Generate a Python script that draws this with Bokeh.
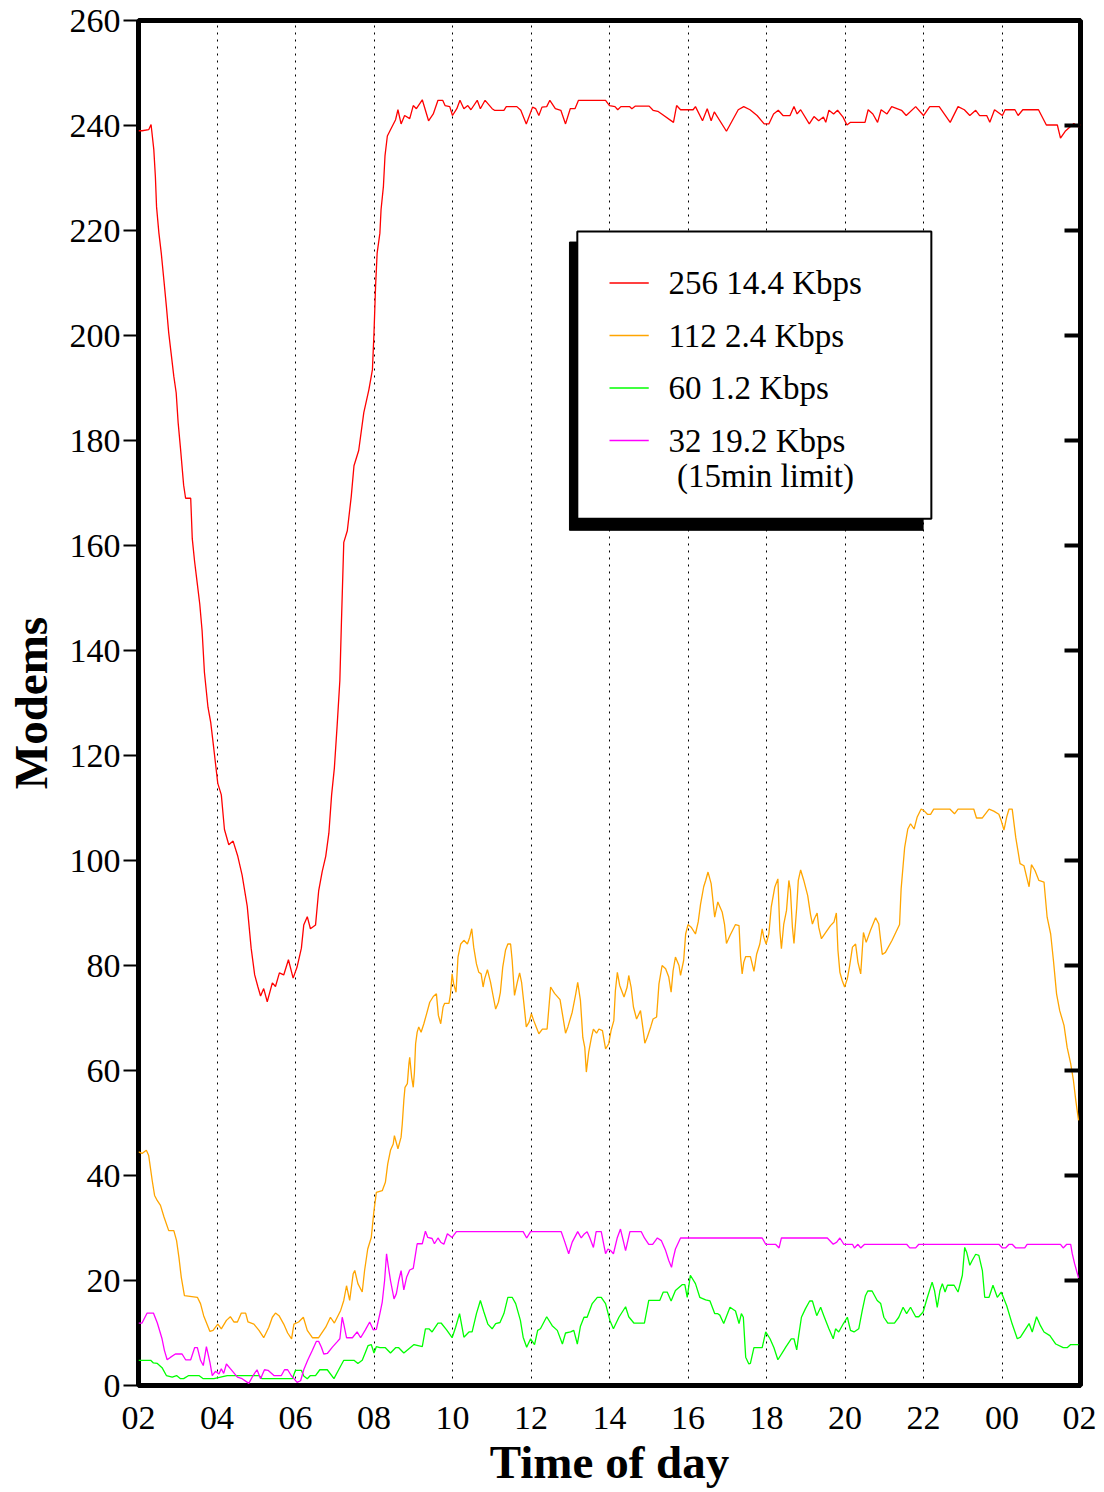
from bokeh.plotting import figure
from bokeh.models import FixedTicker, LinearAxis, BoxAnnotation, Range1d
from bokeh.embed import file_html
from bokeh.resources import INLINE
from bokeh.core.properties import value

# ---------------- data (hours after 02:00, modems in use) ----------------
red_h = [0, 0.09, 0.26, 0.32, 0.39, 0.43, 0.46, 0.52, 0.58, 0.65,
         0.71, 0.77, 0.83, 0.90, 0.96, 1.01, 1.07, 1.15, 1.20, 1.33,
         1.37, 1.43, 1.50, 1.56, 1.62, 1.68, 1.77, 1.84, 1.92, 2.02,
         2.11, 2.19, 2.30, 2.41, 2.53, 2.64, 2.77, 2.87, 2.96, 3.04,
         3.11, 3.19, 3.28, 3.41, 3.49, 3.59, 3.70, 3.82, 3.94, 4.04,
         4.15, 4.21, 4.30, 4.38, 4.51, 4.59, 4.68, 4.77, 4.85, 4.92,
         4.99, 5.06, 5.13, 5.17, 5.23, 5.32, 5.42, 5.49, 5.61, 5.74,
         5.87, 5.96, 6.00, 6.04, 6.08, 6.15, 6.18, 6.24, 6.28, 6.34,
         6.42, 6.55, 6.61, 6.69, 6.78, 6.91, 7.00, 7.08, 7.23, 7.39,
         7.51, 7.63, 7.75, 7.81, 7.93, 8.00, 8.11, 8.19, 8.29, 8.39,
         8.47, 8.63, 8.71, 8.83, 9.01, 9.07, 9.31, 9.37, 9.64, 9.74,
         9.88, 10.04, 10.12, 10.20, 10.28, 10.40, 10.48, 10.62, 10.76, 10.88,
         11.00, 11.12, 11.21, 11.90, 12.00, 12.14, 12.21, 12.29, 12.51, 12.57,
         12.66, 13.01, 13.11, 13.23, 13.33, 13.63, 13.71, 13.81, 14.13, 14.19,
         14.37, 14.49, 14.59, 14.67, 14.98, 15.28, 15.42, 15.58, 15.76, 15.94,
         16.06, 16.18, 16.30, 16.42, 16.60, 16.70, 16.78, 16.87, 17.09, 17.21,
         17.33, 17.45, 17.51, 17.59, 17.71, 17.81, 17.95, 18.05, 18.14, 18.51,
         18.59, 18.71, 18.83, 18.92, 19.07, 19.19, 19.44, 19.56, 19.80, 20.00,
         20.16, 20.40, 20.68, 20.88, 21.04, 21.18, 21.33, 21.43, 21.61, 21.69,
         21.81, 22.01, 22.08, 22.33, 22.41, 22.53, 22.93, 23.13, 23.41, 23.49,
         23.61, 23.83, 23.95, 24.0]
red_v = [239, 239, 239.2, 240.2, 235.4, 230.3, 224.5, 219.5, 215.7, 210.3,
         205.6, 200.5, 196.7, 192.2, 189.1, 183.4, 178.5, 171.5, 169, 169,
         161.3, 156.9, 152.6, 148.9, 143.8, 135.8, 129.2, 126.3, 121.2, 114.7,
         112.5, 105.9, 103, 103.7, 100.8, 97.2, 91.3, 83.3, 78.2, 76,
         74.2, 75.6, 73.1, 76.7, 76, 78.6, 78.2, 81.1, 77.6, 79.7,
         83.3, 87.7, 89.3, 87, 87.7, 94.2, 97.9, 100.8, 105.2, 112.5,
         117.6, 125.6, 134.3, 145.3, 160.6, 162.8, 169.3, 175.2, 178.1, 185.3,
         189.7, 193.5, 200.5, 209.4, 215.7, 219.5, 224, 228.4, 234.2, 238,
         239.2, 241.1, 243, 240.3, 241.9, 241.3, 243.8, 243.2, 244.9, 240.9,
         242.2, 244.8, 244.8, 243.8, 243.6, 241.9, 243.2, 244.8, 243.2, 243.8,
         243, 244.8, 243.2, 244.8, 243.2, 242.9, 242.9, 243.6, 243.6, 242.9,
         240.3, 243.5, 243.2, 241.9, 243.5, 243.6, 244.8, 243.2, 242.9, 240.3,
         243.2, 243.2, 244.8, 244.8, 243.8, 243.6, 243, 243.6, 243.6, 243.2,
         243.7, 243.7, 242.9, 242.7, 242.2, 240.6, 243.8, 243, 243, 243.6,
         240.9, 243.2, 240.9, 242.6, 238.9, 243, 243.6, 243, 241.9, 240.3,
         240.3, 242.2, 242.9, 241.9, 241.9, 243.6, 242.2, 243, 240.3, 241.7,
         240.9, 241.6, 240.6, 242.9, 242.2, 242.9, 241.6, 240.1, 240.6, 240.6,
         243, 242.2, 240.6, 243, 242.2, 243.6, 242.9, 241.9, 243.6, 241.9,
         243.6, 243.6, 240.6, 243.6, 243, 241.9, 242.9, 241.9, 241.9, 240.6,
         243, 241.9, 243, 243, 241.9, 243, 243, 240.1, 240.1, 237.6,
         238.9, 240.4, 239.7, 240.2]

orange_h = [0, 0.09, 0.20, 0.26, 0.35, 0.41, 0.48, 0.56, 0.65, 0.77,
            0.90, 0.97, 1.03, 1.09, 1.17, 1.50, 1.58, 1.66, 1.82, 1.90,
            2.02, 2.11, 2.24, 2.34, 2.43, 2.52, 2.62, 2.73, 2.79, 2.94,
            3.07, 3.19, 3.32, 3.41, 3.49, 3.58, 3.70, 3.80, 3.90, 3.96,
            4.08, 4.20, 4.30, 4.43, 4.59, 4.77, 4.89, 4.99, 5.15, 5.23,
            5.30, 5.38, 5.47, 5.51, 5.59, 5.70, 5.76, 5.84, 5.93, 6.00,
            6.06, 6.21, 6.29, 6.35, 6.42, 6.49, 6.52, 6.61, 6.69, 6.72,
            6.76, 6.79, 6.85, 6.89, 6.91, 6.96, 7.00, 7.03, 7.06, 7.10,
            7.14, 7.20, 7.27, 7.34, 7.42, 7.51, 7.59, 7.64, 7.70, 7.76,
            7.80, 7.91, 7.95, 7.99, 8.03, 8.09, 8.14, 8.21, 8.29, 8.38,
            8.44, 8.49, 8.54, 8.61, 8.67, 8.73, 8.78, 8.82, 8.89, 8.97,
            9.04, 9.10, 9.17, 9.22, 9.28, 9.35, 9.41, 9.48, 9.52, 9.58,
            9.65, 9.71, 9.76, 9.82, 9.88, 9.95, 10.01, 10.07, 10.20, 10.29,
            10.41, 10.50, 10.60, 10.74, 10.80, 10.88, 10.94, 11.05, 11.14, 11.19,
            11.26, 11.32, 11.37, 11.41, 11.47, 11.54, 11.59, 11.67, 11.73, 11.82,
            11.90, 11.98, 12.04, 12.11, 12.15, 12.20, 12.26, 12.37, 12.45, 12.49,
            12.55, 12.61, 12.69, 12.79, 12.86, 12.90, 12.96, 13.05, 13.11, 13.20,
            13.26, 13.34, 13.43, 13.51, 13.57, 13.62, 13.68, 13.77, 13.81, 13.89,
            13.94, 14.00, 14.08, 14.19, 14.26, 14.32, 14.40, 14.45, 14.51, 14.59,
            14.68, 14.76, 14.87, 14.93, 14.98, 15.07, 15.21, 15.30, 15.34, 15.38,
            15.42, 15.47, 15.59, 15.68, 15.75, 15.83, 15.89, 15.93, 15.99, 16.06,
            16.12, 16.21, 16.29, 16.34, 16.38, 16.44, 16.51, 16.57, 16.61, 16.66,
            16.70, 16.77, 16.81, 16.87, 16.95, 17.05, 17.12, 17.17, 17.22, 17.29,
            17.33, 17.40, 17.51, 17.63, 17.72, 17.78, 17.82, 17.87, 17.93, 17.99,
            18.06, 18.12, 18.19, 18.27, 18.33, 18.40, 18.47, 18.54, 18.65, 18.78,
            18.86, 18.95, 19.03, 19.20, 19.39, 19.43, 19.48, 19.52, 19.60, 19.67,
            19.76, 19.84, 19.94, 20.01, 20.10, 20.18, 20.26, 20.67, 20.79, 20.88,
            21.28, 21.35, 21.50, 21.67, 21.79, 21.92, 21.98, 22.05, 22.12, 22.18,
            22.26, 22.35, 22.46, 22.56, 22.63, 22.69, 22.75, 22.84, 22.94, 23.07,
            23.15, 23.24, 23.31, 23.39, 23.47, 23.58, 23.66, 23.75, 23.82, 23.88,
            23.95]
orange_v = [44.5, 44.2, 44.8, 43.8, 39, 36.2, 35.2, 34.3, 32.1, 29.5,
            29.5, 27.6, 24.4, 20.6, 17.1, 16.8, 15.6, 13.3, 10.3, 10.5,
            11.7, 10.8, 12.4, 13.1, 12.1, 12.1, 13.8, 13.8, 12.1, 11.7,
            10.5, 9.1, 11.1, 13, 13.8, 13.3, 11.7, 10, 8.9, 11.7,
            12.1, 13, 10.5, 9.1, 9.1, 11.1, 13, 11.9, 14.3, 16.2,
            19, 16.2, 21.3, 21.9, 19.4, 17.8, 21.9, 26, 28.2, 33.3,
            36.8, 37.1, 38.7, 42.2, 44.8, 46, 47.6, 45.1, 47.3, 49.8,
            54.3, 56.8, 57.5, 61.3, 62.5, 58.7, 56.8, 59.7, 65.1, 67.3,
            68.3, 67.3, 68.9, 70.8, 73, 74.1, 74.6, 70.5, 68.9, 72.1,
            72.8, 72.8, 74.6, 78.4, 76.5, 74.9, 81.6, 84.1, 84.8, 84.1,
            85.4, 87, 83.5, 80.3, 78.7, 78.4, 75.9, 77.5, 79.2, 76.8,
            74, 71.7, 73, 74.9, 79.7, 82.9, 84.1, 84.1, 81, 74.3,
            76.8, 78.6, 76.8, 72.7, 68.3, 69.2, 70.8, 69.5, 67, 67.9,
            67.9, 75.9, 74.7, 73.5, 70.8, 67.1, 68.3, 71.1, 74.6, 76.8,
            73.3, 66.3, 64.4, 59.7, 63.5, 66.3, 67.9, 67.1, 67.9, 67.6,
            64.1, 65.1, 67.6, 69.5, 75.2, 78.7, 76.2, 74, 75.9, 78.1,
            75.9, 72.1, 69.8, 71.4, 67.6, 65.2, 66.3, 68.3, 69.8, 70.2,
            76.5, 80, 79.4, 77.8, 74.9, 79, 81.6, 80, 78.1, 81,
            86, 87.8, 87.3, 86, 88.3, 91.7, 95, 96.2, 97.8, 95.6,
            89.2, 92.1, 90.2, 87.9, 84.2, 85.7, 87.8, 87.6, 81.6, 78.4,
            80.6, 81.7, 81.7, 78.9, 82.2, 84.1, 87, 85.4, 84.1, 86,
            91.1, 94.9, 96.5, 86.7, 83.2, 87.9, 90.5, 96.2, 94.3, 87.3,
            84.2, 91.1, 96.2, 98.2, 96.2, 93.3, 89.8, 87.9, 88.9, 90,
            87.3, 85.1, 86.3, 87.6, 88.3, 90, 82.9, 78.7, 77.1, 75.9,
            77.5, 80, 83.5, 84.1, 80.6, 78.4, 86.3, 84.4, 86.7, 89.1,
            87.9, 82.1, 82.5, 84.8, 87.8, 94.6, 99, 102.5, 106, 107,
            106, 108.3, 109.8, 109.5, 108.8, 108.8, 109.8, 109.8, 108.9, 109.8,
            109.8, 108.1, 108.1, 109.8, 109.4, 108.8, 107.6, 105.8, 108.3, 109.8,
            109.8, 104.4, 99.4, 99, 96.8, 95, 99.2, 98.1, 96.2, 95.9,
            89.2, 86, 81, 74.6, 71.4, 68.6, 64.4, 61.3, 58.1, 54.3,
            50.5]

green_h = [0, 0.31, 0.38, 0.48, 0.60, 0.71, 0.86, 0.97, 1.07, 1.15,
           1.28, 1.54, 1.65, 1.92, 2.26, 3.07, 3.15, 3.92, 4.00, 4.15,
           4.21, 4.30, 4.38, 4.51, 4.62, 4.81, 4.98, 5.10, 5.23, 5.49,
           5.59, 5.70, 5.78, 5.85, 5.93, 6.00, 6.06, 6.15, 6.29, 6.42,
           6.55, 6.63, 6.76, 6.89, 7.02, 7.23, 7.31, 7.40, 7.48, 7.63,
           7.71, 7.85, 7.99, 8.08, 8.18, 8.29, 8.42, 8.50, 8.61, 8.71,
           8.80, 8.90, 9.01, 9.10, 9.21, 9.31, 9.41, 9.52, 9.61, 9.73,
           9.80, 9.89, 9.99, 10.09, 10.17, 10.24, 10.40, 10.54, 10.67, 10.80,
           10.88, 11.01, 11.09, 11.18, 11.26, 11.35, 11.43, 11.56, 11.69, 11.79,
           11.90, 12.01, 12.10, 12.24, 12.41, 12.49, 12.62, 12.89, 13.00, 13.28,
           13.37, 13.47, 13.57, 13.68, 13.85, 13.92, 13.98, 14.06, 14.19, 14.30,
           14.45, 14.56, 14.68, 14.75, 14.81, 14.91, 15.07, 15.21, 15.30, 15.36,
           15.41, 15.47, 15.55, 15.59, 15.68, 15.89, 15.98, 16.09, 16.19, 16.29,
           16.44, 16.49, 16.63, 16.70, 16.77, 16.82, 16.89, 16.99, 17.10, 17.17,
           17.28, 17.38, 17.46, 17.59, 17.70, 17.76, 17.84, 17.96, 18.06, 18.14,
           18.23, 18.35, 18.44, 18.52, 18.58, 18.69, 18.82, 18.91, 18.99, 19.09,
           19.26, 19.37, 19.48, 19.57, 19.67, 19.80, 19.88, 19.99, 20.10, 20.22,
           20.28, 20.35, 20.42, 20.48, 20.55, 20.61, 20.78, 20.88, 20.99, 21.05,
           21.10, 21.18, 21.24, 21.33, 21.41, 21.50, 21.56, 21.67, 21.77, 21.88,
           21.98, 22.12, 22.26, 22.39, 22.47, 22.58, 22.69, 22.77, 22.88, 22.98,
           23.07, 23.22, 23.37, 23.56, 23.66, 23.75, 23.95]
green_v = [4.8, 4.8, 4.3, 4.2, 3.4, 1.9, 1.6, 1.9, 1.3, 1.3,
           1.9, 1.9, 1.3, 1.3, 1.9, 1.9, 1.3, 1.3, 2.9, 2.9,
           1.8, 1.3, 1.9, 1.9, 3, 3, 1.3, 3, 4.8, 4.8,
           4.2, 4.8, 6.3, 7.6, 7.8, 6.2, 7.4, 7.2, 7.2, 6.2,
           7.2, 7.2, 6.2, 7, 7.8, 7.4, 10.8, 10.8, 10.2, 11.9,
           11.9, 10.6, 9.1, 11.1, 13.7, 9.2, 10.2, 10.2, 13.7, 16.2,
           14, 11.7, 10.8, 11.8, 12, 13.7, 16.8, 16.8, 15.6, 12.4,
           9.2, 7.3, 8.9, 7.8, 10.5, 10.8, 13.1, 11.4, 10.5, 7.9,
           10, 10.2, 10.5, 7.9, 11.3, 13, 13, 15.6, 16.8, 16.8,
           15.6, 12.4, 10.8, 13, 15, 13.1, 11.9, 11.9, 16.2, 16.2,
           17.8, 17.8, 16.1, 18.1, 19.2, 19.2, 16.8, 21, 19.4, 16.8,
           16.3, 16.1, 13.7, 13.7, 13.4, 11.8, 14.9, 14.2, 11.8, 13.7,
           13, 5.4, 4.1, 4.2, 7.2, 7.2, 10.2, 8.9, 7.2, 4.9,
           6.7, 7.3, 8.9, 8.9, 6.8, 9.5, 13, 14.6, 16.1, 16.1,
           13.3, 14.9, 13.3, 10.8, 8.9, 10.8, 10.2, 11.8, 13, 10.5,
           10.2, 10.8, 14.3, 17.1, 18, 18, 16.2, 15.6, 13, 11.9,
           11.9, 13, 14.9, 13.7, 14.9, 13.1, 13.1, 14, 16.8, 19.7,
           18.1, 14.9, 18.1, 19.4, 17.8, 19.1, 19.1, 17.8, 21, 26.3,
           25.4, 22.9, 23.8, 25, 24.8, 21.9, 16.8, 16.8, 19.1, 16.8,
           17.8, 15.2, 11.7, 8.9, 9.2, 10.5, 11.8, 10.2, 13.1, 11.4,
           10.2, 9.5, 7.9, 7.2, 7.2, 7.8, 7.8]

magenta_h = [0, 0.09, 0.22, 0.38, 0.48, 0.60, 0.66, 0.73, 0.82, 0.94,
             1.11, 1.20, 1.33, 1.43, 1.50, 1.58, 1.65, 1.73, 1.82, 1.88,
             1.96, 2.05, 2.11, 2.17, 2.24, 2.34, 2.52, 2.64, 2.81, 2.92,
             3.02, 3.11, 3.21, 3.30, 3.45, 3.64, 3.72, 3.80, 3.89, 3.96,
             4.04, 4.13, 4.21, 4.31, 4.43, 4.53, 4.59, 4.66, 4.72, 4.81,
             4.94, 5.06, 5.13, 5.19, 5.23, 5.30, 5.45, 5.57, 5.66, 5.78,
             5.89, 5.98, 6.06, 6.15, 6.21, 6.27, 6.32, 6.36, 6.42, 6.51,
             6.57, 6.63, 6.69, 6.76, 6.83, 6.91, 7.00, 7.06, 7.10, 7.23,
             7.31, 7.37, 7.48, 7.54, 7.63, 7.70, 7.78, 7.87, 7.99, 8.10,
             9.80, 9.89, 9.99, 10.77, 10.85, 10.96, 11.05, 11.19, 11.28, 11.35,
             11.43, 11.50, 11.59, 11.66, 11.79, 11.90, 11.96, 12.03, 12.10, 12.20,
             12.28, 12.35, 12.41, 12.52, 12.81, 12.89, 13.00, 13.10, 13.22, 13.32,
             13.43, 13.51, 13.58, 13.62, 13.68, 13.81, 15.89, 15.98, 16.23, 16.32,
             16.38, 17.55, 17.70, 17.79, 17.87, 17.97, 18.19, 18.24, 18.33, 18.40,
             18.50, 19.57, 19.65, 19.80, 19.88, 21.92, 22.01, 22.09, 22.18, 22.26,
             22.35, 22.58, 22.64, 23.49, 23.56, 23.65, 23.75, 23.79, 23.85, 23.92,
             23.95]
magenta_v = [11.9, 11.9, 13.8, 13.8, 11.9, 8.9, 6.7, 4.9, 5.4, 6,
             6, 4.9, 4.9, 7.2, 7.2, 4.8, 3.8, 7.4, 4.4, 1.9,
             2.7, 2.2, 3.2, 2.3, 4.1, 3.2, 1.6, 1.3, 0.4, 1.9,
             3, 1.3, 3, 2.9, 1.9, 1.9, 3, 3, 1.9, 1.3,
             0.6, 0.9, 3, 4.8, 6.7, 8.4, 8.4, 7.3, 6, 6.1,
             7.3, 8.3, 8.9, 13, 11.7, 9.1, 9.1, 10.2, 9.1, 10.6,
             12.1, 10.6, 10.7, 13.7, 15.9, 20, 25.1, 22.9, 20, 16.5,
             17.5, 20, 21.9, 18.2, 20.6, 22, 22.3, 25.1, 27, 27,
             29.4, 28.2, 28, 27, 28.1, 27.3, 26.9, 28.9, 28.2, 29.3,
             29.3, 28.1, 29.3, 29.3, 27.6, 25.1, 27.3, 29.3, 28.1, 28.8,
             29.3, 28.1, 26.3, 29.3, 29.3, 25.1, 26, 25.7, 25.1, 28.2,
             29.8, 27.6, 25.7, 29.3, 29.3, 28.1, 26.9, 26.9, 28.1, 27.6,
             25.7, 23.8, 22.5, 24.1, 26, 28.1, 28.1, 26.9, 26.9, 26.2,
             28.1, 28.1, 26.9, 27.3, 28.1, 26.9, 26.9, 26.2, 26.9, 26.2,
             26.9, 26.9, 26.2, 26.2, 26.9, 26.9, 26.2, 26.2, 26.9, 26.9,
             26.2, 26.2, 26.9, 26.9, 26.2, 26.9, 26.9, 25.1, 23.2, 21.3,
             20.5]

series_labels = ["256 14.4 Kbps", "112 2.4 Kbps", "60 1.2 Kbps", "32 19.2 Kbps"]
series_note = "(15min limit)"
series_colors = ["#ff0000", "#ffa500", "#00ff00", "#ff00ff"]

xtick_pos = list(range(0, 25, 2))
xtick_labels = ["02", "04", "06", "08", "10", "12", "14", "16", "18", "20", "22", "00", "02"]
ytick_pos = list(range(0, 261, 20))

# ---------------- figure ----------------
SERIF = "Liberation Serif"
p = figure(width=1096, height=1490,
           x_range=Range1d(0, 24), y_range=Range1d(0, 260),
           output_backend="svg", toolbar_location=None,
           min_border_left=138, min_border_right=16,
           min_border_top=20, min_border_bottom=105)
p.background_fill_color = "white"
p.border_fill_color = "white"
p.outline_line_color = "black"
p.outline_line_width = 5

xt = FixedTicker(ticks=xtick_pos)
yt = FixedTicker(ticks=ytick_pos)

xa = p.xaxis[0]
xa.ticker = xt
xa.major_label_overrides = {k: v for k, v in zip(xtick_pos, xtick_labels)}
xa.major_tick_in = 0
xa.major_tick_out = 0
xa.minor_tick_in = 0
xa.minor_tick_out = 0
xa.axis_line_color = None
xa.major_label_standoff = 21
xa.major_label_text_font = SERIF
xa.major_label_text_font_size = "34px"
xa.major_label_text_color = "black"
xa.axis_label = "Time of day"
xa.axis_label_text_font = SERIF
xa.axis_label_text_font_style = "bold"
xa.axis_label_text_font_size = "47px"
xa.axis_label_text_color = "black"
xa.axis_label_standoff = 4

ya = p.yaxis[0]
ya.ticker = yt
ya.major_tick_in = 0
ya.major_tick_out = 15
ya.major_tick_line_width = 2
ya.major_tick_line_color = "black"
ya.minor_tick_in = 0
ya.minor_tick_out = 0
ya.axis_line_color = None
ya.major_label_standoff = 3
ya.major_label_text_font = SERIF
ya.major_label_text_font_size = "34px"
ya.major_label_text_color = "black"
ya.axis_label = "Modems"
ya.axis_label_text_font = SERIF
ya.axis_label_text_font_style = "bold"
ya.axis_label_text_font_size = "47px"
ya.axis_label_text_color = "black"
ya.axis_label_standoff = 10

ra = LinearAxis(ticker=yt)
ra.major_label_overrides = {k: "" for k in ytick_pos}
ra.major_label_standoff = 0
ra.major_tick_in = 16
ra.major_tick_out = 0
ra.major_tick_line_width = 4
ra.major_tick_line_color = "black"
ra.minor_tick_in = 0
ra.minor_tick_out = 0
ra.axis_line_color = None
p.add_layout(ra, "right")

p.xgrid.ticker = xt
p.xgrid.grid_line_color = "black"
p.xgrid.grid_line_dash = "2 5"
p.xgrid.grid_line_width = 1
p.ygrid.visible = False

# ---------------- legend (box with drop shadow) ----------------
shadow_box = dict(left=10.98, right=19.99, bottom=162.9, top=217.8)
legend_box = dict(left=11.18, right=20.2, bottom=165.1, top=219.8)
p.add_layout(BoxAnnotation(**shadow_box, fill_color="black", fill_alpha=1.0,
                           line_color="black", line_alpha=1.0, line_width=1, level="underlay"))
p.add_layout(BoxAnnotation(**legend_box, fill_color="white", fill_alpha=1.0,
                           line_color="black", line_alpha=1.0, line_width=2, level="underlay"))

leg_line_x0, leg_line_x1, leg_text_x, leg_note_x = 12.0, 13.0, 13.5, 13.72
leg_rows_y = [210, 200, 190, 180]
leg_note_y = 173.3

# ---------------- data lines ----------------
all_series = [(red_h, red_v), (orange_h, orange_v), (green_h, green_v), (magenta_h, magenta_v)]
for (hx, vy), col in zip(all_series, series_colors):
    p.line(hx, vy, line_color=col, line_width=1.3)

for lab, col, yy in zip(series_labels, series_colors, leg_rows_y):
    p.segment(x0=[leg_line_x0], y0=[yy], x1=[leg_line_x1], y1=[yy], line_color=col, line_width=1.3)
    p.text(x=[leg_text_x], y=[yy], text=[lab], text_font=value(SERIF), text_font_size="33px",
           text_baseline="middle", text_align="left", text_color="black")
p.text(x=[leg_note_x], y=[leg_note_y], text=[series_note], text_font=value(SERIF), text_font_size="33px",
       text_baseline="middle", text_align="left", text_color="black")

open("out.html", "w").write(file_html(p, INLINE))
